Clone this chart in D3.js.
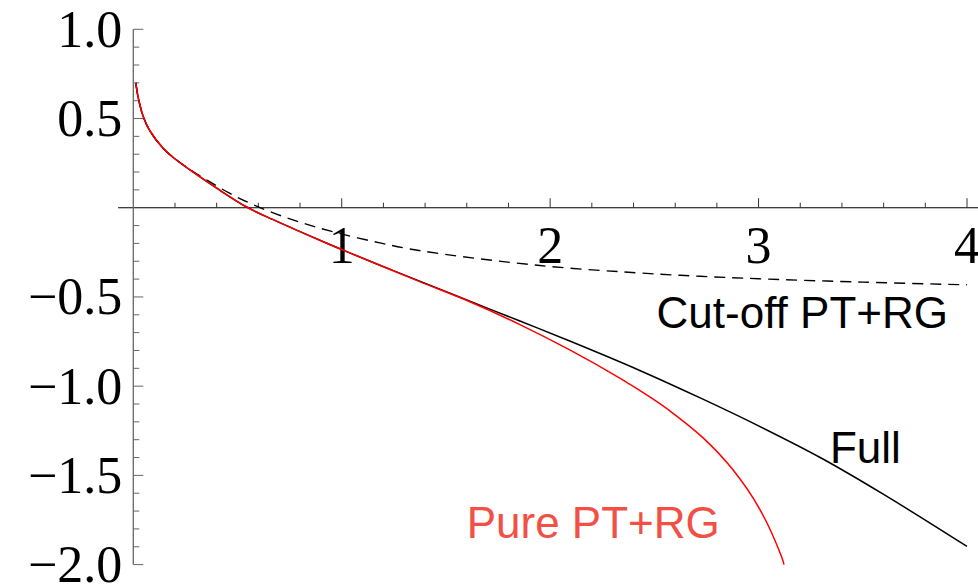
<!DOCTYPE html>
<html>
<head>
<meta charset="utf-8">
<script src="https://cdn.jsdelivr.net/npm/d3@7"></script>
<style>
  html, body { margin: 0; padding: 0; background: #fff; }
  svg { display: block; }
</style>
</head>
<body>
<svg id="chart" width="978" height="585"></svg>
<script>
// Full solution
const fullX = [0.012, 0.024, 0.048, 0.08, 0.144, 0.19, 0.272, 0.40, 0.544, 0.671, 0.80, 0.991, 1.183, 1.374, 1.615, 1.855, 2.10, 2.43, 2.72, 3.0, 3.3, 3.6, 4.0];
const fullY = [0.70, 0.615, 0.51, 0.43, 0.332, 0.283, 0.212, 0.11, 0.004, -0.067, -0.134, -0.23, -0.322, -0.4115, -0.524, -0.635, -0.75, -0.912, -1.066, -1.2225, -1.4025, -1.6065, -1.8985];

// Pure PT+RG
const pureX = [0.012, 0.024, 0.048, 0.08, 0.144, 0.19, 0.272, 0.40, 0.544, 0.671, 0.80, 0.991, 1.183, 1.374, 1.615, 1.855, 2.094, 2.334, 2.48, 2.574, 2.734, 2.878, 3.006, 3.11, 3.122];
const pureY = [0.70, 0.615, 0.51, 0.43, 0.332, 0.283, 0.212, 0.11, 0.004, -0.067, -0.134, -0.23, -0.322, -0.414, -0.527, -0.655, -0.797, -0.955, -1.062, -1.138, -1.29, -1.47, -1.69, -1.955, -2.0];

// Cut-off PT+RG
const cutX = [0.012, 0.024, 0.048, 0.08, 0.144, 0.19, 0.272, 0.36, 0.464, 0.56, 0.656, 0.784, 0.943, 1.183, 1.383, 1.951, 2.462, 2.718, 3.0, 3.5, 4.0];
const cutY = [0.70, 0.615, 0.51, 0.43, 0.332, 0.284, 0.214, 0.15, 0.08, 0.025, -0.022, -0.075, -0.13, -0.197, -0.242, -0.324, -0.368, -0.384, -0.398, -0.417, -0.432];

// Axis ticks and labels
const xMajor = [1, 2, 3, 4];
const xMajorLabels = ["1", "2", "3", "4"];
const yMajor = [1.0, 0.5, -0.5, -1.0, -1.5, -2.0];
const yMajorLabels = ["1.0", "0.5", "\u22120.5", "\u22121.0", "\u22121.5", "\u22122.0"];

// Curve captions (anchored at their left baseline, in data units)
const captions = [
  { text: "Cut-off PT+RG", x: 2.525, y: -0.676, color: "#000" },
  { text: "Full", x: 3.357, y: -1.429, color: "#000" },
  { text: "Pure PT+RG", x: 1.614, y: -1.853, color: "#f24f45" }
];

const svg = d3.select("#chart");

const x = d3.scaleLinear().domain([0, 4]).range([133.3, 967]);
const y = d3.scaleLinear().domain([-2, 1]).range([564.6, 29.3]);

const serif = "'Liberation Serif', 'Times New Roman', serif";
const sans = "'Liberation Sans', Arial, Helvetica, sans-serif";

// ---- x axis (horizontal line through y = 0, ticks pointing up) ----
const gx = svg.append("g");
gx.append("line")
  .attr("x1", x(-0.073)).attr("x2", 978)
  .attr("y1", y(0)).attr("y2", y(0))
  .attr("stroke", "#000").attr("stroke-width", 1.2);

const xMinor = d3.range(1, 21).map(i => i * 0.2).filter(v => Math.abs(v - Math.round(v)) > 1e-6);
gx.selectAll("line.xminor").data(xMinor).enter().append("line")
  .attr("class", "xminor")
  .attr("x1", d => x(d)).attr("x2", d => x(d))
  .attr("y1", y(0)).attr("y2", y(0) - 5)
  .attr("stroke", "#333").attr("stroke-width", 1);
gx.selectAll("line.xmajor").data(xMajor).enter().append("line")
  .attr("class", "xmajor")
  .attr("x1", d => x(d)).attr("x2", d => x(d))
  .attr("y1", y(0)).attr("y2", y(0) - 9.5)
  .attr("stroke", "#333").attr("stroke-width", 1);
gx.selectAll("text").data(xMajor).enter().append("text")
  .attr("x", d => x(d))
  .attr("y", y(0) + 55.5)
  .attr("text-anchor", "middle")
  .attr("font-family", serif)
  .attr("font-size", 52)
  .attr("fill", "#000")
  .text((d, i) => xMajorLabels[i]);

// ---- y axis (vertical line through x = 0, ticks pointing right) ----
const gy = svg.append("g");
gy.append("line")
  .attr("x1", x(0)).attr("x2", x(0))
  .attr("y1", y(1)).attr("y2", y(-2))
  .attr("stroke", "#666").attr("stroke-width", 1.3);

const yMinor = d3.range(-20, 11).map(i => i / 10).filter(v => Math.abs(v * 2 - Math.round(v * 2)) > 1e-6);
gy.selectAll("line.yminor").data(yMinor).enter().append("line")
  .attr("class", "yminor")
  .attr("x1", x(0)).attr("x2", x(0) + 6)
  .attr("y1", d => y(d)).attr("y2", d => y(d))
  .attr("stroke", "#666").attr("stroke-width", 1);
gy.selectAll("line.ymajor").data(yMajor).enter().append("line")
  .attr("class", "ymajor")
  .attr("x1", x(0)).attr("x2", x(0) + 10)
  .attr("y1", d => y(d)).attr("y2", d => y(d))
  .attr("stroke", "#666").attr("stroke-width", 1);
gy.selectAll("text").data(yMajor).enter().append("text")
  .attr("x", x(0) - 11)
  .attr("y", d => y(d) + 17.5)
  .attr("text-anchor", "end")
  .attr("font-family", serif)
  .attr("font-size", 52)
  .attr("fill", "#000")
  .text((d, i) => yMajorLabels[i]);

// ---- curves ----
const line = d3.line()
  .x(d => x(d[0]))
  .y(d => y(d[1]))
  .curve(d3.curveCatmullRom.alpha(0.5));

const zip = (xs, ys) => xs.map((v, i) => [v, ys[i]]);

svg.append("path")
  .datum(zip(cutX, cutY))
  .attr("d", line)
  .attr("fill", "none")
  .attr("stroke", "#000")
  .attr("stroke-width", 1.4)
  .attr("stroke-dasharray", "11,7");

svg.append("path")
  .datum(zip(fullX, fullY))
  .attr("d", line)
  .attr("fill", "none")
  .attr("stroke", "#000")
  .attr("stroke-width", 1.5);

svg.append("path")
  .datum(zip(pureX, pureY))
  .attr("d", line)
  .attr("fill", "none")
  .attr("stroke", "#ff0000")
  .attr("stroke-width", 1.5);

// ---- captions ----
svg.selectAll("text.caption").data(captions).enter().append("text")
  .attr("class", "caption")
  .attr("x", d => x(d.x) - 3)
  .attr("y", d => y(d.y))
  .attr("font-family", sans)
  .attr("font-size", 44)
  .attr("fill", d => d.color)
  .text(d => d.text);
</script>
</body>
</html>
